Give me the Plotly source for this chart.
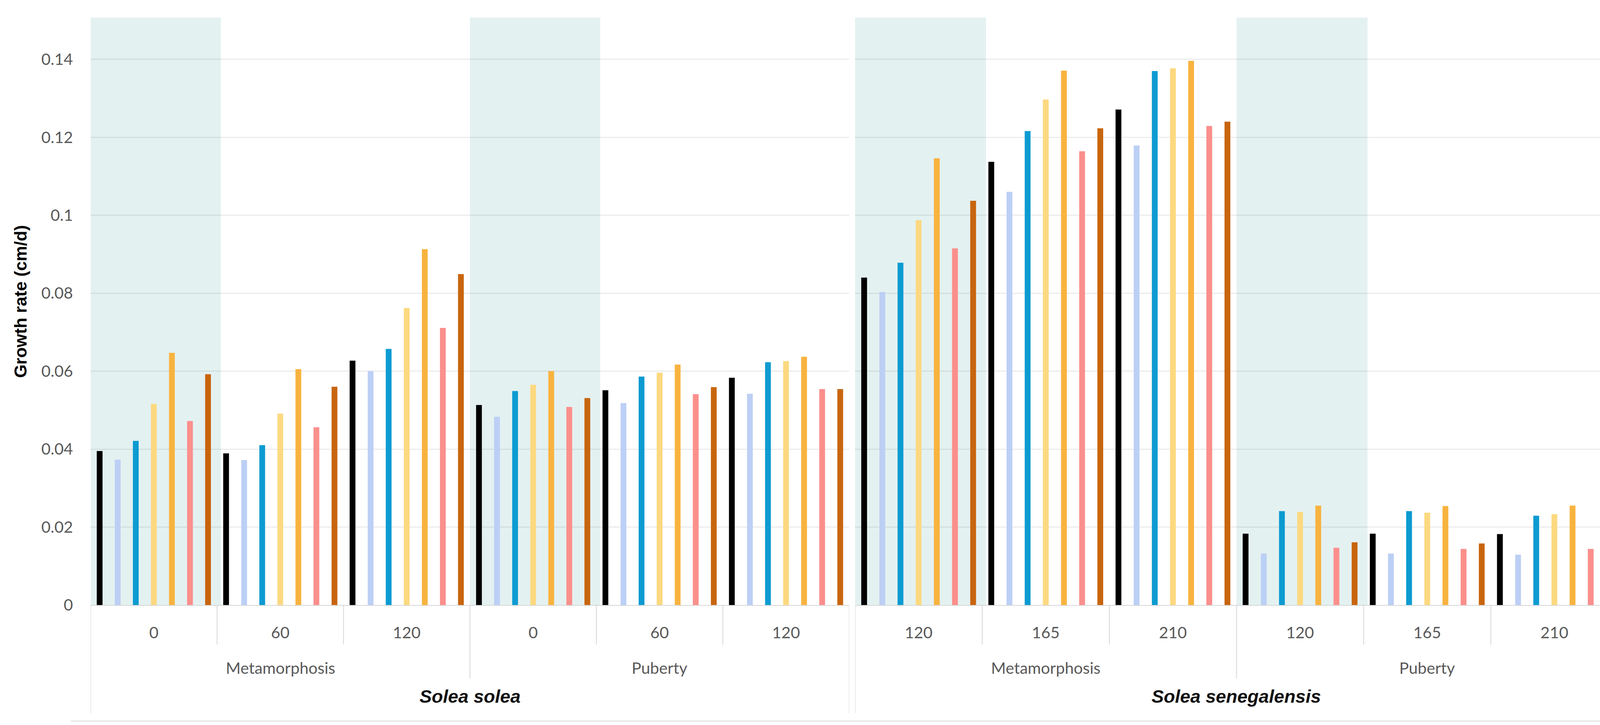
import plotly.graph_objects as go

# ---------------- data ----------------
species = ["Solea solea", "Solea senegalensis"]
stages = ["Metamorphosis", "Puberty"]
times = [["0", "60", "120"], ["120", "165", "210"]]
series_names = ["Series 1", "Series 2", "Series 3", "Series 4", "Series 5", "Series 6", "Series 7"]

# order: S. solea Meta(0,60,120), Pub(0,60,120), S. senegalensis Meta(120,165,210), Pub(120,165,210)
s1 = [0.0395, 0.0389, 0.0627, 0.0513, 0.0551, 0.0583, 0.0840, 0.1137, 0.1271, 0.0183, 0.0183, 0.0182]
s2 = [0.0373, 0.0372, 0.0600, 0.0483, 0.0518, 0.0542, 0.0803, 0.1060, 0.1179, 0.0132, 0.0132, 0.0129]
s3 = [0.0421, 0.0410, 0.0657, 0.0549, 0.0586, 0.0623, 0.0878, 0.1216, 0.1370, 0.0241, 0.0241, 0.0229]
s4 = [0.0516, 0.0491, 0.0762, 0.0565, 0.0596, 0.0626, 0.0987, 0.1297, 0.1377, 0.0239, 0.0237, 0.0233]
s5 = [0.0647, 0.0605, 0.0913, 0.0600, 0.0617, 0.0637, 0.1146, 0.1371, 0.1396, 0.0255, 0.0254, 0.0255]
s6 = [0.0472, 0.0456, 0.0711, 0.0508, 0.0541, 0.0554, 0.0915, 0.1164, 0.1229, 0.0147, 0.0144, 0.0144]
s7 = [0.0592, 0.0560, 0.0849, 0.0531, 0.0559, 0.0554, 0.1037, 0.1223, 0.1240, 0.0161, 0.0158, 0.0158]
series = [s1, s2, s3, s4, s5, s6, s7]

y_ticks = [0, 0.02, 0.04, 0.06, 0.08, 0.1, 0.12, 0.14]
y_ticktext = ["0", "0.02", "0.04", "0.06", "0.08", "0.1", "0.12", "0.14"]

# ---------------- style ----------------
colors = ["#000000", "#bccff5", "#0c9bd1", "#fcd980", "#f8b33f", "#fb8f8c", "#c8650e"]
shade_color = "#e4f1f1"
sep_color = "#d6d6d6"
lab_color = "#595959"
lab_font = "Lato, Open Sans, sans-serif"
n_per_chart = len(stages) * 3
axis_names = ["x", "x2"]

fig = go.Figure()
for ci, sp in enumerate(species):
    xs = list(range(n_per_chart))
    for si, vals in enumerate(series):
        fig.add_trace(go.Bar(
            x=xs, y=vals[ci * n_per_chart:(ci + 1) * n_per_chart],
            name=series_names[si], marker=dict(color=colors[si], line=dict(width=0)),
            xaxis=axis_names[ci], yaxis="y", showlegend=False,
        ))

xaxis_common = dict(
    range=[-0.5, n_per_chart - 0.5], showgrid=False, zeroline=False,
    showline=True, linecolor=sep_color, linewidth=2,
    tickvals=list(range(n_per_chart)), ticks="outside", ticklen=34,
    tickcolor="rgba(0,0,0,0)", tickfont=dict(family=lab_font, size=41, color=lab_color),
    fixedrange=True,
)

fig.update_layout(
    width=4171, height=1855,
    margin=dict(l=232, r=29, t=45, b=307),
    paper_bgcolor="white", plot_bgcolor="white",
    barmode="group", bargap=0.0, bargroupgap=0.68,
    xaxis=dict(domain=[0, 0.4967], ticktext=times[0] * 2, **xaxis_common),
    xaxis2=dict(domain=[0.5005, 1], anchor="y", ticktext=times[1] * 2, **xaxis_common),
    yaxis=dict(
        range=[0, 0.1507], tickvals=y_ticks, ticktext=y_ticktext,
        showgrid=True, gridcolor="rgba(0,0,0,0.075)", gridwidth=3,
        zeroline=False, showline=False, ticks="outside", ticklen=36,
        tickcolor="rgba(0,0,0,0)",
        tickfont=dict(family=lab_font, size=41, color=lab_color),
    ),
)

shapes = []
annotations = []
for ci, sp in enumerate(species):
    xr = axis_names[ci]
    # shaded first category of each stage
    for gi in range(len(stages)):
        c = gi * 3
        shapes.append(dict(type="rect", xref=xr, yref="paper", x0=c - 0.5, x1=c + 0.53,
                           y0=0, y1=1, fillcolor=shade_color, line=dict(width=0), layer="below"))
    # separators below axis
    for b in range(n_per_chart + 1):
        xpos = b - 0.5
        if b in (0, n_per_chart):
            length = 277
        elif b % 3 == 0:
            length = 188
        else:
            length = 101
        shapes.append(dict(type="line", xref=xr, yref="paper", ysizemode="pixel", yanchor=0,
                           x0=xpos, x1=xpos, y0=0, y1=-length,
                           line=dict(color=sep_color, width=2)))
    # stage labels
    for gi, st in enumerate(stages):
        annotations.append(dict(text=st, xref=xr, yref="paper", x=gi * 3 + 1, y=0,
                                yshift=-160, yanchor="middle", showarrow=False,
                                font=dict(family=lab_font, size=41, color=lab_color)))
    # species label
    annotations.append(dict(text="<b><i>" + sp + "</i></b>", xref=xr, yref="paper",
                            x=(n_per_chart - 1) / 2, y=0, yshift=-233, yanchor="middle",
                            showarrow=False,
                            font=dict(family="Liberation Sans, Arial, sans-serif", size=47, color="#111111")))

# right border of the right chart, from top down
shapes.append(dict(type="line", xref="x2", yref="paper", ysizemode="pixel", yanchor=1,
                   x0=n_per_chart - 0.5, x1=n_per_chart - 0.5, y0=0, y1=-1780,
                   line=dict(color=sep_color, width=2)))
# bottom line
shapes.append(dict(type="line", xref="paper", yref="paper", ysizemode="pixel", yanchor=0,
                   x0=-0.013, x1=1, y0=-297, y1=-297, line=dict(color=sep_color, width=2)))

annotations.append(dict(text="<b>Growth rate (cm/d)</b>", xref="paper", yref="paper",
                        x=-0.0458, y=0.517, xanchor="center", yanchor="middle",
                        textangle=-90, showarrow=False,
                        font=dict(family="Liberation Sans, Arial, sans-serif", size=44, color="#000000")))

fig.update_layout(shapes=shapes, annotations=annotations)
fig.write_html(
    "out.html",
    config={"displayModeBar": False},
    post_script="document.body.style.margin='0';document.body.style.overflow='hidden';",
)
